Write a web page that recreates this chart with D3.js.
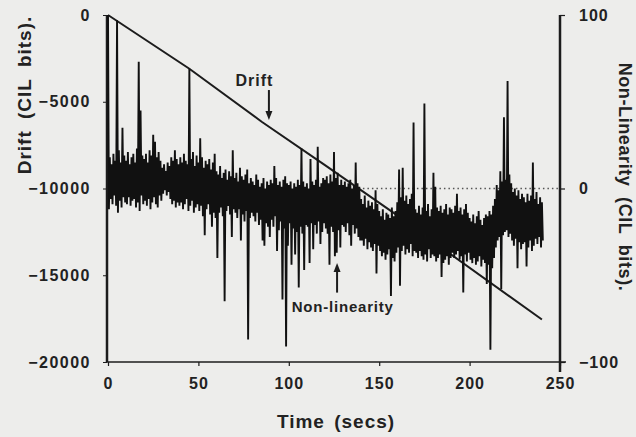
<!DOCTYPE html>
<html><head><meta charset="utf-8">
<script src="https://cdn.jsdelivr.net/npm/d3@7"></script>
<style>
html,body{margin:0;padding:0;background:#ededeb;}
svg{display:block;}
text{font-family:"Liberation Sans",Arial,sans-serif;font-weight:bold;fill:#222;}
</style></head><body>
<svg id="chart" width="636" height="437"></svg>
<script>
// ---- data ----
const timeTicks = [0, 50, 100, 150, 200, 250];
const driftTicks = [0, -5000, -10000, -15000, -20000];
const nlTicks = [100, 0, -100];

// drift (CIL bits) vs time (s)
const driftTime  = [0, 45, 85, 120, 160, 185, 240];
const driftValue = [0, -3100, -6150, -8650, -11550, -13450, -17550];

// non-linearity (CIL bits): per-second upper / lower excursions, t = 0..240 s
const nlMax = [
 100,18,14,20,16,97,22,15,35,19,
 16,21,14,18,20,15,23,73,45,19,
 17,20,15,22,19,31,27,18,21,16,
 12,14,10,15,13,18,16,22,17,14,
 18,15,20,16,14,69,17,21,13,19,
 15,29,18,12,16,14,17,11,15,20,
 10,8,13,6,9,11,5,10,7,22,
 6,9,4,12,7,5,8,11,3,6,
 4,2,8,5,1,3,6,0,4,2,
 5,3,13,6,2,4,1,5,7,3,
 2,4,0,3,1,5,2,23,4,1,
 3,0,17,4,2,5,24,1,3,6,
 5,7,3,8,4,21,6,9,2,5,
 2,4,1,3,5,0,2,15,3,1,
 -6,-9,-4,-11,-7,-10,-8,-12,-1,-9,
 -13,-16,-12,-18,-14,-15,-17,-11,-16,-13,
 -8,11,-5,12,-7,-4,-9,-6,-3,38,
 -12,-14,-10,-15,-11,49,-13,-9,-16,-12,
 9,1,-11,-13,-10,-14,-12,-9,-15,-11,
 -12,-14,-10,-3,-13,-11,-15,-12,-9,-14,
 -17,-19,-15,-20,-16,-13,-18,-21,-17,-15,
 -16,-13,-15,-10,-6,2,-1,10,4,41,
 5,62,8,3,-2,0,-4,-1,-6,-3,
 -5,-8,-3,-7,-4,15,-6,-2,-9,-5,-8
];
const nlMin = [
 -12,-6,-9,-4,-10,-14,-7,-11,-5,-8,
 -9,-5,-10,-7,-6,-11,-8,-13,-4,-9,
 -7,-10,-6,-12,-8,-5,-9,-11,-4,-7,
 -3,-1,-4,-2,-6,-9,-7,-11,-8,-10,
 -8,-12,-9,-6,-13,-10,-7,-14,-11,-9,
 -13,-10,-16,-27,-12,-9,-15,-22,-14,-17,
 -40,-14,-11,-16,-65,-13,-10,-15,-28,-12,
 -14,-17,-12,-30,-15,-19,-13,-87,-17,-14,
 -16,-19,-14,-21,-18,-30,-33,-20,-22,-28,
 -18,-22,-16,-36,-24,-19,-64,-23,-91,-33,
 -20,-44,-23,-38,-25,-57,-22,-26,-47,-21,
 -22,-43,-20,-35,-21,-26,-19,-32,-25,-20,
 -23,-26,-44,-22,-25,-39,-37,-24,-34,-21,
 -22,-25,-20,-27,-33,-21,-26,-23,-28,-30,
 -30,-33,-29,-35,-31,-34,-36,-32,-49,-33,
 -36,-39,-37,-41,-38,-35,-62,-40,-42,-37,
 -34,-56,-36,-33,-38,-35,-37,-32,-39,-36,
 -37,-40,-36,-39,-41,-38,-42,-35,-40,-38,
 -39,-42,-40,-38,-51,-43,-41,-39,-44,-40,
 -37,-40,-38,-36,-41,-39,-60,-38,-42,-37,
 -41,-43,-40,-44,-42,-39,-45,-41,-43,-55,
 -44,-93,-46,-40,-34,-30,-28,-58,-27,-25,
 -24,-28,-26,-30,-33,-29,-46,-31,-35,-32,
 -31,-45,-34,-30,-36,-33,-29,-32,-28,-34,-30
];
const zeroRefTime = [141, 250];   // visible part of the dotted zero reference

// annotations (data coordinates)
const driftNote = {label: "Drift", t: 81, v: -4095, arrowT: 89, arrowFrom: -4325, arrowTo: -6055};
const nlNote = {label: "Non-linearity", t: 101.6, v: -71, arrowT: 126.7, arrowFrom: -60, arrowTo: -43};

// ---- chart ----
const svg = d3.select("#chart");
const ink = "#1c1c1c";
const x = d3.scaleLinear().domain([0, 250]).range([108, 560]);
const yL = d3.scaleLinear().domain([-20000, 0]).range([362, 15]);
const yR = d3.scaleLinear().domain([-100, 100]).range([362, 15]);

// bottom axis
const xAxis = svg.append("g").attr("transform", `translate(0,${yL(-20000)})`)
  .call(d3.axisBottom(x).tickValues(timeTicks).tickSize(4).tickPadding(12).tickFormat(d3.format("d")));
xAxis.select(".domain").attr("d", `M${x(0)-1},0H${x(250)+6}`).attr("stroke", ink).attr("stroke-width", 1.5);
xAxis.selectAll(".tick line").attr("stroke", ink).attr("stroke-width", 1.2);
xAxis.selectAll(".tick text").style("font-size", "16px").style("letter-spacing", "1px").attr("fill", "#222");

// left axis
const lAxis = svg.append("g").attr("transform", `translate(${x(0)-1},0)`)
  .call(d3.axisLeft(yL).tickValues(driftTicks).tickSize(4).tickPadding(12).tickFormat(d3.format("d")));
lAxis.select(".domain").attr("d", `M0,${yL(0)}V${yL(-20000)}`).attr("stroke", ink).attr("stroke-width", 2.5);
lAxis.selectAll(".tick line").attr("stroke", ink).attr("stroke-width", 1);
lAxis.selectAll(".tick text").style("font-size", "16px").style("letter-spacing", "1.5px").attr("fill", "#222");

// right axis
const rAxis = svg.append("g").attr("transform", `translate(${x(250)},0)`)
  .call(d3.axisRight(yR).tickValues(nlTicks).tickSize(5).tickPadding(14).tickFormat(d3.format("d")));
rAxis.select(".domain").attr("d", `M0,${yR(100)}V${yR(-100)+10}`).attr("stroke", ink).attr("stroke-width", 2.5);
rAxis.selectAll(".tick line").attr("stroke", ink).attr("stroke-width", 1.2);
rAxis.selectAll(".tick text").style("font-size", "16px").style("letter-spacing", "1px").attr("fill", "#222");

// dotted zero reference
svg.append("line")
  .attr("x1", x(zeroRefTime[0])).attr("x2", x(zeroRefTime[1]))
  .attr("y1", yR(0)).attr("y2", yR(0))
  .attr("stroke", "#555").attr("stroke-width", 1.3).attr("stroke-dasharray", "1.5,3");

// drift line
const driftPts = driftTime.map((t, i) => [t, driftValue[i]]);
svg.append("path").datum(driftPts)
  .attr("fill", "none").attr("stroke", ink).attr("stroke-width", 2)
  .attr("d", d3.line().x(d => x(d[0])).y(d => yL(d[1])));

// non-linearity trace
const nlPts = [];
nlMax.forEach((v, i) => { nlPts.push([i, v]); nlPts.push([i + 0.5, nlMin[i]]); });
svg.append("path").datum(nlPts)
  .attr("fill", "none").attr("stroke", "#111").attr("stroke-width", 1.9).attr("stroke-linejoin", "miter")
  .attr("d", d3.line().x(d => x(d[0])).y(d => yR(d[1])));

// annotations
function arrow(xp, y1, y2) {
  const dir = y2 > y1 ? 1 : -1;
  svg.append("line").attr("x1", xp).attr("x2", xp).attr("y1", y1).attr("y2", y2 - dir * 7)
    .attr("stroke", ink).attr("stroke-width", 2);
  svg.append("path").attr("fill", ink)
    .attr("d", `M${xp},${y2}L${xp-3.5},${y2 - dir*9}L${xp+3.5},${y2 - dir*9}Z`);
}
svg.append("text").attr("x", x(driftNote.t)).attr("y", yL(driftNote.v))
  .attr("text-anchor", "middle").style("font-size", "16px").style("letter-spacing", "1px").text(driftNote.label);
arrow(x(driftNote.arrowT), yL(driftNote.arrowFrom), yL(driftNote.arrowTo));

svg.append("text").attr("x", x(nlNote.t)).attr("y", yR(nlNote.v))
  .style("font-size", "15px").style("letter-spacing", "0.8px").text(nlNote.label);
arrow(x(nlNote.arrowT), yR(nlNote.arrowFrom), yR(nlNote.arrowTo));

// axis titles
svg.append("text").attr("transform", `translate(31,95) rotate(-90)`)
  .attr("text-anchor", "middle").style("font-size", "19px").style("letter-spacing", "1px").style("word-spacing", "5px")
  .text("Drift (CIL bits).");
svg.append("text").attr("transform", `translate(619,177) rotate(90)`)
  .attr("text-anchor", "middle").style("font-size", "18px").style("letter-spacing", "0.6px").style("word-spacing", "5px")
  .text("Non-Linearity (CIL bits).");
svg.append("text").attr("x", 336).attr("y", 428)
  .attr("text-anchor", "middle").style("font-size", "19px").style("letter-spacing", "1px").style("word-spacing", "3px")
  .text("Time (secs)");
</script>
</body></html>
